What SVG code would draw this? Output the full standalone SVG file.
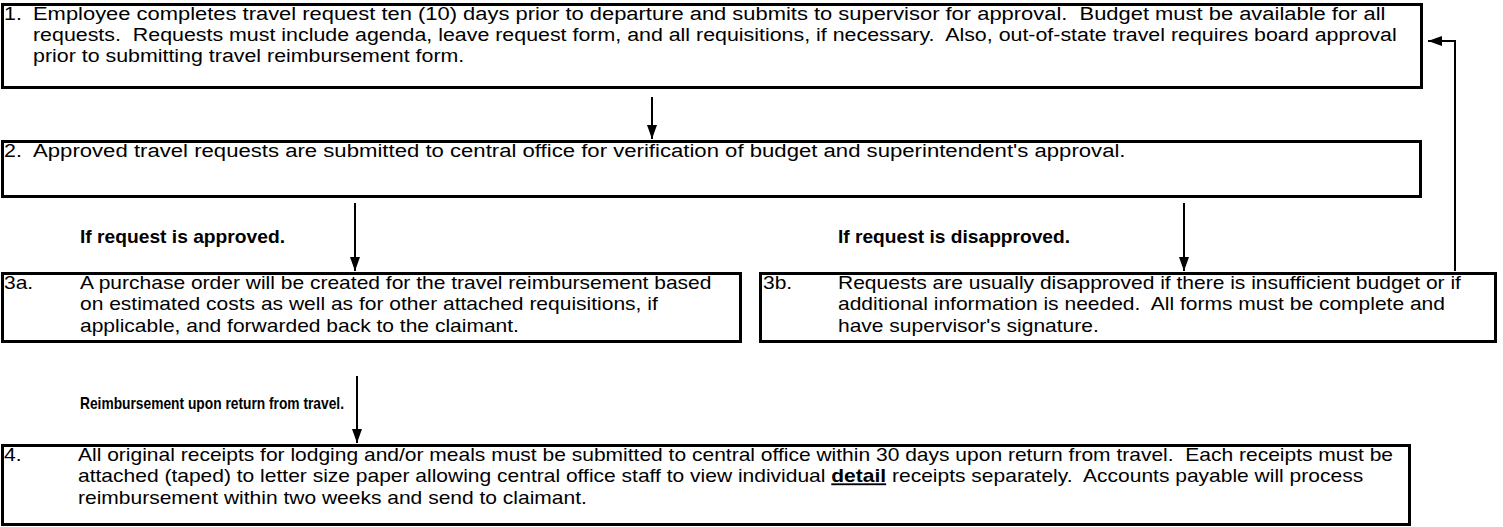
<svg xmlns="http://www.w3.org/2000/svg" width="1503" height="527" viewBox="0 0 1503 527" xml:space="preserve">
<defs>
<style>
.box{fill:#fff;stroke:#000;stroke-width:3}
.t{font-family:"Liberation Sans",Arial,sans-serif;font-size:18.6px;fill:#000;white-space:pre}
.b{font-family:"Liberation Sans",Arial,sans-serif;font-size:18.6px;font-weight:bold;fill:#000;white-space:pre}
.c{fill:none;stroke:#000;stroke-width:2}
</style>
<marker id="ah" markerWidth="14" markerHeight="10" refX="14" refY="5" orient="auto" markerUnits="userSpaceOnUse" viewBox="0 0 14 10">
<path d="M0,0 L14,5 L0,10 z" fill="#000"/>
</marker>
</defs>
<rect width="1503" height="527" fill="#fff"/>
<g id="connectors">
<path class="c" d="M652,97 V139" marker-end="url(#ah)"/>
<path class="c" d="M355,203 V271" marker-end="url(#ah)"/>
<path class="c" d="M1184,203 V271" marker-end="url(#ah)"/>
<path class="c" d="M357,376 V443" marker-end="url(#ah)"/>
<path class="c" d="M1455,271 V41 H1428" marker-end="url(#ah)"/>
</g>
<g id="labels">
<text class="b" x="80" y="243" textLength="205" lengthAdjust="spacingAndGlyphs">If request is approved.</text>
<text class="b" x="838" y="243" textLength="232" lengthAdjust="spacingAndGlyphs">If request is disapproved.</text>
<text class="b" x="80" y="409" style="font-size:17px" textLength="264" lengthAdjust="spacingAndGlyphs">Reimbursement upon return from travel.</text>
</g>
<g id="node1">
<rect class="box" x="2.5" y="4.5" width="1419" height="83"/>
<text class="t" transform="translate(4,19.5) scale(1.15,1)">1.</text>
<text class="t" transform="translate(33,19.5) scale(1.15,1)" textLength="1176" lengthAdjust="spacingAndGlyphs">Employee completes travel request ten (10) days prior to departure and submits to supervisor for approval.  Budget must be available for all</text>
<text class="t" transform="translate(33,40.9) scale(1.15,1)">requests.  Requests must include agenda, leave request form, and all requisitions, if necessary.  Also, out-of-state travel requires board approval</text>
<text class="t" transform="translate(33,62.3) scale(1.15,1)">prior to submitting travel reimbursement form.</text>
</g>
<g id="node2">
<rect class="box" x="2.5" y="141.5" width="1418" height="55"/>
<text class="t" transform="translate(4,157) scale(1.15,1)">2.</text>
<text class="t" transform="translate(33,157) scale(1.15,1)" textLength="950" lengthAdjust="spacingAndGlyphs">Approved travel requests are submitted to central office for verification of budget and superintendent's approval.</text>
</g>
<g id="node3a">
<rect class="box" x="2.5" y="273.5" width="738" height="68"/>
<text class="t" transform="translate(4,289) scale(1.13,1)">3a.</text>
<text class="t" transform="translate(80,289) scale(1.13,1)">A purchase order will be created for the travel reimbursement based</text>
<text class="t" transform="translate(80,310.4) scale(1.13,1)">on estimated costs as well as for other attached requisitions, if</text>
<text class="t" transform="translate(80,331.8) scale(1.13,1)">applicable, and forwarded back to the claimant.</text>
</g>
<g id="node3b">
<rect class="box" x="760.5" y="273.5" width="735" height="68"/>
<text class="t" transform="translate(763,289) scale(1.13,1)">3b.</text>
<text class="t" transform="translate(838,289) scale(1.13,1)">Requests are usually disapproved if there is insufficient budget or if</text>
<text class="t" transform="translate(838,310.4) scale(1.13,1)">additional information is needed.  All forms must be complete and</text>
<text class="t" transform="translate(838,331.8) scale(1.13,1)">have supervisor's signature.</text>
</g>
<g id="node4">
<rect class="box" x="2.5" y="445.5" width="1407" height="79"/>
<text class="t" transform="translate(4,461) scale(1.13,1)">4.</text>
<text class="t" transform="translate(78,461) scale(1.13,1)">All original receipts for lodging and/or meals must be submitted to central office within 30 days upon return from travel.  Each receipts must be</text>
<text class="t" transform="translate(78,482.4) scale(1.13,1)">attached (taped) to letter size paper allowing central office staff to view individual <tspan font-weight="bold" text-decoration="underline">detail</tspan> receipts separately.  Accounts payable will process</text>
<text class="t" transform="translate(78,503.8) scale(1.13,1)">reimbursement within two weeks and send to claimant.</text>
</g>
</svg>
